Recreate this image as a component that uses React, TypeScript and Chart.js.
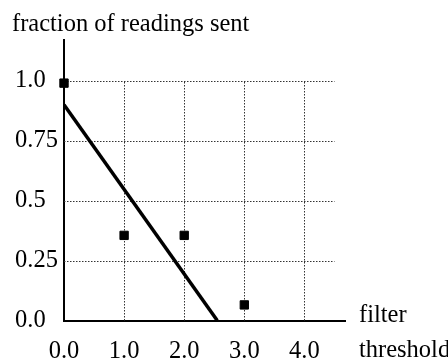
import { useEffect, useRef } from "react";
import { Chart, registerables } from "chart.js";

Chart.register(...registerables);

// Axis text
const yAxisTitle = "fraction of readings sent";
const xAxisTitle = ["filter", "threshold"];

// Tick values and their printed labels
const xTickValues = [0, 1, 2, 3, 4];
const xTickLabels = ["0.0", "1.0", "2.0", "3.0", "4.0"];
const yTickValues = [0, 0.25, 0.5, 0.75, 1.0];
const yTickLabels = ["0.0", "0.25", "0.5", "0.75", "1.0"];

// Measured points
const thresholds = [0, 1, 2, 3];
const fractionSent = [0.99, 0.355, 0.355, 0.065];

// Linear fit
const fitThresholds = [0, 2.55];
const fitFraction = [0.9, 0];

// Dotted reference grid
const gridXValues = [1, 2, 3, 4];
const gridYValues = [0.25, 0.5, 0.75, 1.0];
const gridXLimit = 4.5;
const gridYLimit = 1.0;

// Axis extents
const xMax = 4.675;
const yMax = 1.172;

const SERIF = '"Liberation Serif", "Times New Roman", serif';
const FONT_SIZE = 24.5;

const dottedGrid = {
  id: "dottedGrid",
  beforeDatasetsDraw(chart: any) {
    const { ctx } = chart;
    const x = chart.scales.x;
    const y = chart.scales.y;
    ctx.save();
    ctx.strokeStyle = "#333";
    ctx.lineWidth = 1;
    ctx.setLineDash([1.5, 1.5]);
    for (const v of gridYValues) {
      const py = Math.round(y.getPixelForValue(v)) + 0.5;
      ctx.beginPath();
      ctx.moveTo(x.getPixelForValue(0), py);
      ctx.lineTo(x.getPixelForValue(gridXLimit), py);
      ctx.stroke();
    }
    for (const v of gridXValues) {
      const px = Math.round(x.getPixelForValue(v)) + 0.5;
      ctx.beginPath();
      ctx.moveTo(px, y.getPixelForValue(0));
      ctx.lineTo(px, y.getPixelForValue(gridYLimit));
      ctx.stroke();
    }
    ctx.restore();
  },
};

const axisTitles = {
  id: "axisTitles",
  afterDraw(chart: any) {
    const { ctx, chartArea } = chart;
    ctx.save();
    ctx.fillStyle = "#000";
    ctx.font = `${FONT_SIZE}px ${SERIF}`;
    ctx.textAlign = "left";
    ctx.textBaseline = "alphabetic";
    ctx.fillText(yAxisTitle, 12, chartArea.top - 9);
    ctx.fillText(xAxisTitle[0], chartArea.right + 14, chartArea.bottom + 1.5);
    ctx.fillText(xAxisTitle[1], chartArea.right + 14, chartArea.bottom + 36);
    ctx.restore();
  },
};

export default function App() {
  const canvasRef = useRef<HTMLCanvasElement | null>(null);

  useEffect(() => {
    document.body.style.margin = "0";
    const canvas = canvasRef.current;
    if (!canvas) return;

    const chart = new Chart(canvas, {
      type: "scatter",
      data: {
        datasets: [
          {
            type: "line",
            data: fitThresholds.map((t, i) => ({ x: t, y: fitFraction[i] })),
            borderColor: "#000",
            borderWidth: 3.5,
            borderCapStyle: "butt",
            pointRadius: 0,
            fill: false,
            order: 2,
          } as any,
          {
            type: "scatter",
            data: thresholds.map((t, i) => ({ x: t, y: fractionSent[i] })),
            pointStyle: "rect",
            pointRadius: 5.9,
            pointBorderWidth: 1,
            backgroundColor: "#000",
            borderColor: "#000",
            clip: false,
            order: 1,
          } as any,
        ],
      },
      options: {
        responsive: false,
        animation: false,
        events: [],
        layout: { padding: { left: 15, top: 39.5, right: 103, bottom: 0 } },
        plugins: {
          legend: { display: false },
          tooltip: { enabled: false },
          title: { display: false },
        },
        scales: {
          x: {
            type: "linear",
            min: 0,
            max: xMax,
            grid: { display: false, drawTicks: false },
            border: { display: true, color: "#000", width: 2 },
            afterBuildTicks: (axis: any) => {
              axis.ticks = xTickValues.map((v) => ({ value: v }));
            },
            afterFit: (axis: any) => {
              axis.height = 37.5;
            },
            ticks: {
              autoSkip: false,
              maxRotation: 0,
              padding: 16,
              color: "#000",
              font: { family: SERIF, size: FONT_SIZE },
              callback: (v: any) => xTickLabels[xTickValues.indexOf(Number(v))],
            },
          },
          y: {
            type: "linear",
            min: 0,
            max: yMax,
            grid: { display: false, drawTicks: false },
            border: { display: true, color: "#000", width: 2 },
            afterBuildTicks: (axis: any) => {
              axis.ticks = yTickValues.map((v) => ({ value: v }));
            },
            afterFit: (axis: any) => {
              axis.width = 49;
            },
            ticks: {
              autoSkip: false,
              crossAlign: "far",
              color: "#000",
              font: { family: SERIF, size: FONT_SIZE },
              callback: (v: any) => yTickLabels[yTickValues.indexOf(Number(v))],
            },
          },
        },
      },
      plugins: [dottedGrid, axisTitles],
    });

    return () => chart.destroy();
  }, []);

  return (
    <div style={{ position: "fixed", left: 0, top: 0, width: 448, height: 358, background: "#fff" }}>
      <canvas ref={canvasRef} width={448} height={358} style={{ display: "block" }} />
    </div>
  );
}
